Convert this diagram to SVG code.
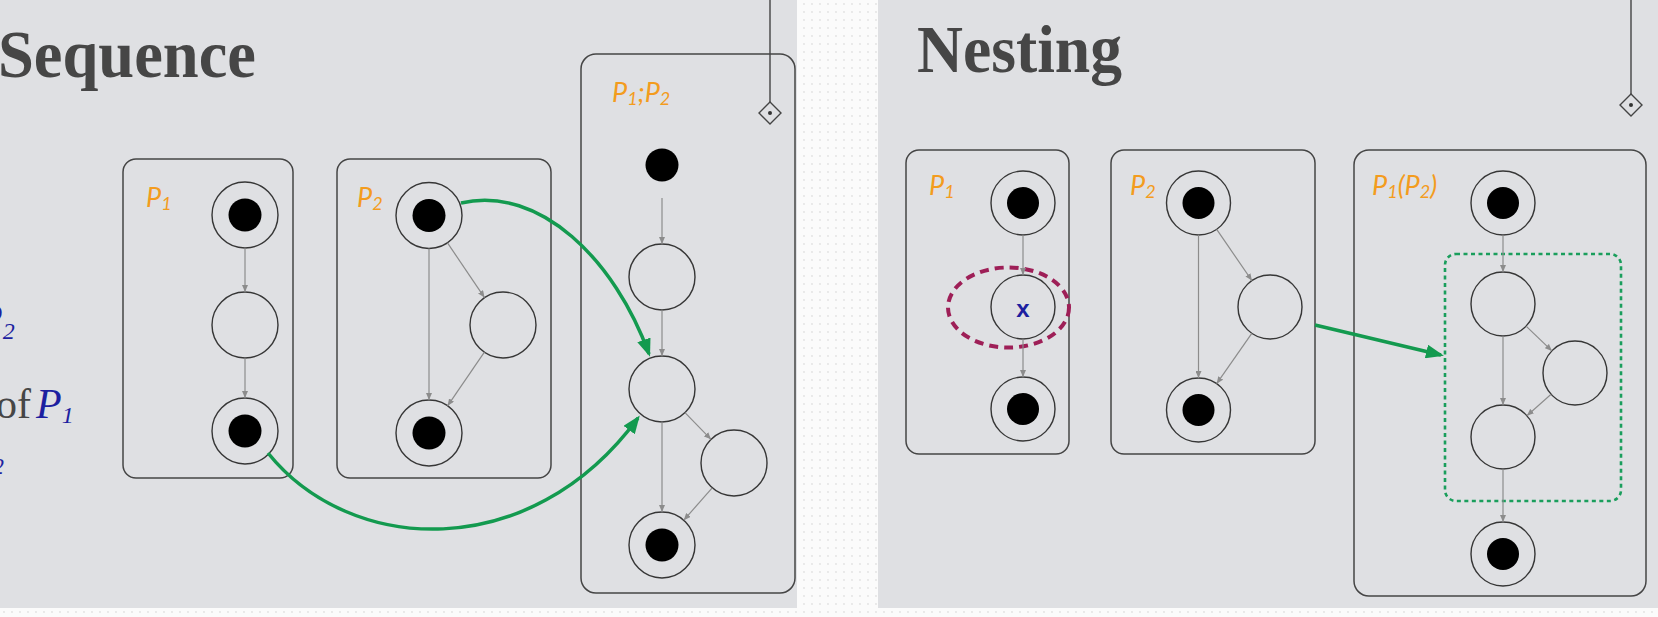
<svg xmlns="http://www.w3.org/2000/svg" width="1658" height="617" viewBox="0 0 1658 617">
<defs>
<style>
.bg{fill:#dfe0e3}
.box{fill:none;stroke:#454545;stroke-width:1.5}
.st{fill:none;stroke:#363636;stroke-width:1.4}
.dot{fill:#000}
.edge{fill:none;stroke:#8c8c8c;stroke-width:1.2}
.gr{fill:none;stroke:#139a4f;stroke-width:3.5}
.lbl{font-family:Lato,"Open Sans",sans-serif;font-style:italic;font-size:27px;fill:#f39c1e}
.sub{font-size:18px}
.title{font-family:"Liberation Serif",serif;font-weight:bold;font-size:68px;fill:#464646}
.math{font-family:"Liberation Serif",serif;font-style:italic;fill:#1d1fa0}
.deco{fill:none;stroke:#444;stroke-width:1.4}
</style>
<pattern id="dots" width="8" height="8" patternUnits="userSpaceOnUse">
<rect width="8" height="8" fill="#fbfbfb"/>
<circle cx="4" cy="4" r="0.9" fill="#e2e2e2"/>
</pattern>
<marker id="ga" viewBox="0 0 14 12" refX="14" refY="6" markerWidth="7" markerHeight="6" markerUnits="userSpaceOnUse" orient="auto">
<path d="M0,0 L14,6 L0,12 z" fill="#8c8c8c"/>
</marker>
<marker id="gg" viewBox="0 0 18 14" refX="15" refY="7" markerWidth="18" markerHeight="14" markerUnits="userSpaceOnUse" orient="auto">
<path d="M0,0 L18,7 L0,14 z" fill="#139a4f"/>
</marker>
</defs>

<rect x="0" y="0" width="1658" height="617" fill="url(#dots)"/>
<rect class="bg" x="0" y="0" width="797" height="608"/>
<rect class="bg" x="878" y="0" width="780" height="608"/>

<!-- decorations -->
<g id="deco-left">
<line class="deco" x1="770" y1="0" x2="770" y2="102"/>
<path class="deco" d="M770,102 L781,113 L770,124 L759,113 z"/>
<circle cx="770" cy="113" r="2" fill="#333"/>
</g>
<g id="deco-right">
<line class="deco" x1="1631" y1="0" x2="1631" y2="94"/>
<path class="deco" d="M1631,94 L1642,105 L1631,116 L1620,105 z"/>
<circle cx="1631" cy="105" r="2" fill="#333"/>
</g>

<!-- titles -->
<text class="title" x="-2" y="77" textLength="258" lengthAdjust="spacingAndGlyphs">Sequence</text>
<text class="title" x="917" y="72" textLength="205" lengthAdjust="spacingAndGlyphs">Nesting</text>

<!-- cut-off body text on the left -->
<g id="bodytext">
<text class="math" x="-23" y="333" font-size="42">P<tspan font-size="24" dy="6">2</tspan></text>
<text x="-4" y="418" font-family="Liberation Serif,serif" font-size="42" fill="#464646">of<tspan class="math" dx="5">P</tspan><tspan class="math" font-size="24" dy="5">1</tspan></text>
<text class="math" x="-8" y="474" font-size="24">2</text>
</g>

<!-- ===== Sequence ===== -->
<g id="seq-P1">
<rect class="box" x="123" y="159" width="170" height="319" rx="13"/>
<text class="lbl" x="146" y="207">P<tspan class="sub" dy="3">1</tspan></text>
</g>
<g id="seq-P1-start"><circle class="st" cx="245" cy="215" r="33"/><circle class="dot" cx="245" cy="215" r="16.5"/></g>
<g id="seq-P1-mid"><circle class="st" cx="245" cy="325" r="33"/></g>
<g id="seq-P1-end"><circle class="st" cx="245" cy="431" r="33"/><circle class="dot" cx="245" cy="431" r="16.5"/></g>

<g id="seq-P2">
<rect class="box" x="337" y="159" width="214" height="319" rx="13"/>
<text class="lbl" x="357" y="207">P<tspan class="sub" dy="3">2</tspan></text>
</g>
<g id="seq-P2-start"><circle class="st" cx="429" cy="215.5" r="33"/><circle class="dot" cx="429" cy="215.5" r="16.5"/></g>
<g id="seq-P2-right"><circle class="st" cx="503" cy="325" r="33"/></g>
<g id="seq-P2-end"><circle class="st" cx="429" cy="433" r="33"/><circle class="dot" cx="429" cy="433" r="16.5"/></g>

<g id="seq-P1P2">
<rect class="box" x="581" y="54" width="214" height="539" rx="15"/>
<text class="lbl" x="612" y="102">P<tspan class="sub" dy="3">1</tspan><tspan dy="-3">;P</tspan><tspan class="sub" dy="3">2</tspan></text>
</g>
<g id="seq-C-start"><circle class="dot" cx="662" cy="165" r="16.5"/></g>
<g id="seq-C-n1"><circle class="st" cx="662" cy="277" r="33"/></g>
<g id="seq-C-n2"><circle class="st" cx="662" cy="389" r="33"/></g>
<g id="seq-C-right"><circle class="st" cx="734" cy="463" r="33"/></g>
<g id="seq-C-end"><circle class="st" cx="662" cy="545" r="33"/><circle class="dot" cx="662" cy="545" r="16.5"/></g>

<!-- ===== Nesting ===== -->
<g id="nest-P1">
<rect class="box" x="906" y="150" width="163" height="304" rx="13"/>
<text class="lbl" x="929" y="195">P<tspan class="sub" dy="3">1</tspan></text>
</g>
<g id="nest-P1-start"><circle class="st" cx="1023" cy="203" r="32"/><circle class="dot" cx="1023" cy="203" r="16"/></g>
<g id="nest-P1-x">
<circle class="st" cx="1023" cy="307" r="32"/>
<text x="1023" y="317" text-anchor="middle" font-family="Liberation Sans,Arial,sans-serif" font-weight="bold" font-size="24" fill="#1d1fa0">x</text>
<ellipse cx="1008.5" cy="307.5" rx="60.5" ry="40" fill="none" stroke="#9e1f57" stroke-width="4" stroke-dasharray="9,6"/>
</g>
<g id="nest-P1-end"><circle class="st" cx="1023" cy="409" r="32"/><circle class="dot" cx="1023" cy="409" r="16"/></g>

<g id="nest-P2">
<rect class="box" x="1111" y="150" width="204" height="304" rx="13"/>
<text class="lbl" x="1130" y="195">P<tspan class="sub" dy="3">2</tspan></text>
</g>
<g id="nest-P2-start"><circle class="st" cx="1198.5" cy="203" r="32"/><circle class="dot" cx="1198.5" cy="203" r="16"/></g>
<g id="nest-P2-right"><circle class="st" cx="1270" cy="307" r="32"/></g>
<g id="nest-P2-end"><circle class="st" cx="1198.5" cy="410" r="32"/><circle class="dot" cx="1198.5" cy="410" r="16"/></g>

<g id="nest-P1P2">
<rect class="box" x="1354" y="150" width="292" height="446" rx="15"/>
<text class="lbl" x="1372" y="195">P<tspan class="sub" dy="3">1</tspan><tspan dy="-3">(P</tspan><tspan class="sub" dy="3">2</tspan><tspan dy="-3">)</tspan></text>
<rect x="1445" y="254" width="176" height="247" rx="11" fill="none" stroke="#1a9e5c" stroke-width="2.6" stroke-dasharray="4,3.5"/>
</g>
<g id="nest-C-start"><circle class="st" cx="1503" cy="203" r="32"/><circle class="dot" cx="1503" cy="203" r="16"/></g>
<g id="nest-C-n1"><circle class="st" cx="1503" cy="304" r="32"/></g>
<g id="nest-C-right"><circle class="st" cx="1575" cy="373" r="32"/></g>
<g id="nest-C-n3"><circle class="st" cx="1503" cy="437" r="32"/></g>
<g id="nest-C-end"><circle class="st" cx="1503" cy="554" r="32"/><circle class="dot" cx="1503" cy="554" r="16"/></g>

<!-- connectors -->
<g id="connectors">
<line class="edge" x1="245" y1="248" x2="245" y2="292" marker-end="url(#ga)"/>
<line class="edge" x1="245" y1="358" x2="245" y2="398" marker-end="url(#ga)"/>
<line class="edge" x1="429" y1="248.5" x2="429" y2="400" marker-end="url(#ga)"/>
<line class="edge" x1="447.5" y1="242.9" x2="484.5" y2="297.6" marker-end="url(#ga)"/>
<line class="edge" x1="484.4" y1="352.2" x2="447.6" y2="405.8" marker-end="url(#ga)"/>
<line class="edge" x1="662" y1="198" x2="662" y2="244" marker-end="url(#ga)"/>
<line class="edge" x1="662" y1="310" x2="662" y2="356" marker-end="url(#ga)"/>
<line class="edge" x1="662" y1="422" x2="662" y2="512" marker-end="url(#ga)"/>
<line class="edge" x1="685" y1="412.7" x2="711" y2="439.3" marker-end="url(#ga)"/>
<line class="edge" x1="712.2" y1="487.8" x2="683.8" y2="520.2" marker-end="url(#ga)"/>

<line class="edge" x1="1023" y1="235" x2="1023" y2="275" marker-end="url(#ga)"/>
<line class="edge" x1="1023" y1="339" x2="1023" y2="377" marker-end="url(#ga)"/>
<line class="edge" x1="1198.5" y1="235" x2="1198.5" y2="378" marker-end="url(#ga)"/>
<line class="edge" x1="1216.7" y1="229.4" x2="1251.9" y2="280.6" marker-end="url(#ga)"/>
<line class="edge" x1="1251.8" y1="333.3" x2="1216.7" y2="383.7" marker-end="url(#ga)"/>
<line class="edge" x1="1503" y1="235" x2="1503" y2="272" marker-end="url(#ga)"/>
<line class="edge" x1="1503" y1="336" x2="1503" y2="405" marker-end="url(#ga)"/>
<line class="edge" x1="1526.1" y1="326.1" x2="1551.9" y2="350.9" marker-end="url(#ga)"/>
<line class="edge" x1="1551.1" y1="394.3" x2="1526.9" y2="415.7" marker-end="url(#ga)"/>
<line class="edge" x1="1503" y1="469" x2="1503" y2="522" marker-end="url(#ga)"/>

<path class="gr" d="M461,203 C540,185 615,260 649,354" marker-end="url(#gg)"/>
<path class="gr" d="M268,453 C350,555 530,565 638,418" marker-end="url(#gg)"/>
<line class="gr" x1="1315" y1="325" x2="1441" y2="355" marker-end="url(#gg)"/>
</g>
</svg>
